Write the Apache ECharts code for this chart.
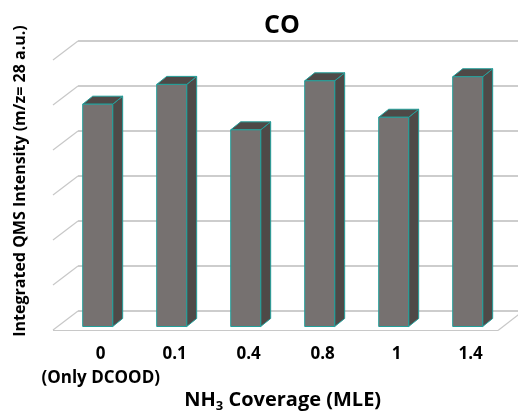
<!DOCTYPE html>
<html><head><meta charset="utf-8">
<script src="https://cdn.jsdelivr.net/npm/echarts@6/dist/echarts.min.js"></script>
<style>html,body{margin:0;padding:0;background:#fff}#c{width:518px;height:411px}</style>
</head><body><div id="c"></div>
<script>
const categories = ['0', '0.1', '0.4', '0.8', '1', '1.4'];
const subLabels = ['(Only DCOOD)', '', '', '', '', ''];
const values = [4.94, 5.38, 4.37, 5.46, 4.65, 5.55];
const wallLevels = [0, 1, 2, 3, 4, 5, 6];
const titleText = 'CO';
const yTitle = 'Integrated QMS Intensity (m/z= 28 a.u.)';

const FONT = '"Open Sans", "Noto Sans", sans-serif';
const chart = echarts.init(document.getElementById('c'), null, {renderer: 'canvas'});

const FRONT = '#767170', DARK = '#4e4947', EDGE = '#23a09b';

chart.setOption({
  animation: false,
  title: {
    text: titleText, left: 277, top: 8, textAlign: 'center',
    textStyle: {fontFamily: FONT, fontWeight: 'bold', fontSize: 25, color: '#000'}
  },
  grid: [
    {left: 78, top: 41, width: 445, height: 270, outerBoundsMode: 'none', containLabel: false},
    {left: 60.7, top: 56.5, width: 444, height: 270, outerBoundsMode: 'none', containLabel: false}
  ],
  xAxis: [
    {gridIndex: 0, type: 'category', data: categories, show: false},
    {gridIndex: 1, type: 'category', data: categories,
     axisLine: {show: false}, axisTick: {show: false},
     axisLabel: {
       margin: 16, interval: 0, padding: [0, 0, 0, 6],
       fontFamily: FONT, fontWeight: 'bold', fontSize: 17, color: '#000', lineHeight: 24,
       formatter: (v, i) => subLabels[i] ? v + '\n' + subLabels[i] : v
     },
     name: '{a|NH}{s|3}{a| Coverage (MLE)}', nameLocation: 'middle', nameGap: 62,
     nameMoveOverlap: false,
     nameTextStyle: {
       rich: {
         a: {fontFamily: FONT, fontWeight: 'bold', fontSize: 20, color: '#000', lineHeight: 24},
         s: {fontFamily: FONT, fontWeight: 'bold', fontSize: 13, color: '#000', lineHeight: 12, verticalAlign: 'bottom'}
       }
     }
    }
  ],
  yAxis: [
    {gridIndex: 0, type: 'value', min: 0, max: 6, interval: 1,
     axisLine: {show: false}, axisTick: {show: false}, axisLabel: {show: false},
     splitLine: {show: true, lineStyle: {color: '#bdbdbd', width: 1.5}}},
    {gridIndex: 1, type: 'value', min: 0, max: 6, interval: 1, show: false, splitLine: {show: false}}
  ],
  graphic: [{
    type: 'text', x: 20, y: 181, rotation: Math.PI / 2,
    style: {text: yTitle, fontFamily: FONT, fontWeight: 'bold', fontSize: 16, fill: '#000',
            align: 'center', verticalAlign: 'middle'}
  }],
  series: [
    {
      type: 'custom', xAxisIndex: 0, yAxisIndex: 0, silent: true,
      data: wallLevels.map(v => [0, v]),
      renderItem: function (params, api) {
        const cs = params.coordSys;
        const y = api.coord([0, api.value(1)])[1];
        const children = [{
          type: 'line', shape: {x1: cs.x, y1: y, x2: cs.x - 25, y2: y + 19},
          style: {stroke: '#c8c8c8', lineWidth: 1.2}
        }];
        if (api.value(1) === 0) {
          children.push({type: 'line', shape: {x1: cs.x - 25, y1: y + 19.5, x2: cs.x + cs.width - 25, y2: y + 19.5},
            style: {stroke: '#c8c8c8', lineWidth: 1.2}});
          children.push({type: 'line', shape: {x1: cs.x + cs.width, y1: y, x2: cs.x + cs.width - 25, y2: y + 19.5},
            style: {stroke: '#c8c8c8', lineWidth: 1.2}});
        }
        return {type: 'group', children: children};
      }
    },
    {
      type: 'custom', xAxisIndex: 1, yAxisIndex: 1,
      data: values.map((v, i) => [i, v]),
      renderItem: function (params, api) {
        const top = api.coord([api.value(0), api.value(1)]);
        const base = api.coord([api.value(0), 0]);
        const w = api.size([1, 0])[0] * 0.405;
        const x0 = top[0] - w / 2, x1 = top[0] + w / 2;
        const yt = top[1], yb = base[1];
        const dx = 10, dy = -8;
        const st = {stroke: EDGE, lineWidth: 1, lineJoin: 'round'};
        return {
          type: 'group', children: [
            {type: 'polygon', shape: {points: [[x1, yt], [x1 + dx, yt + dy], [x1 + dx, yb + dy], [x1, yb]]},
             style: Object.assign({fill: DARK}, st)},
            {type: 'polygon', shape: {points: [[x0, yt], [x0 + dx, yt + dy], [x1 + dx, yt + dy], [x1, yt]]},
             style: Object.assign({fill: DARK}, st)},
            {type: 'rect', shape: {x: x0, y: yt, width: w, height: yb - yt},
             style: Object.assign({fill: FRONT}, st)}
          ]
        };
      }
    }
  ]
});
</script></body></html>
